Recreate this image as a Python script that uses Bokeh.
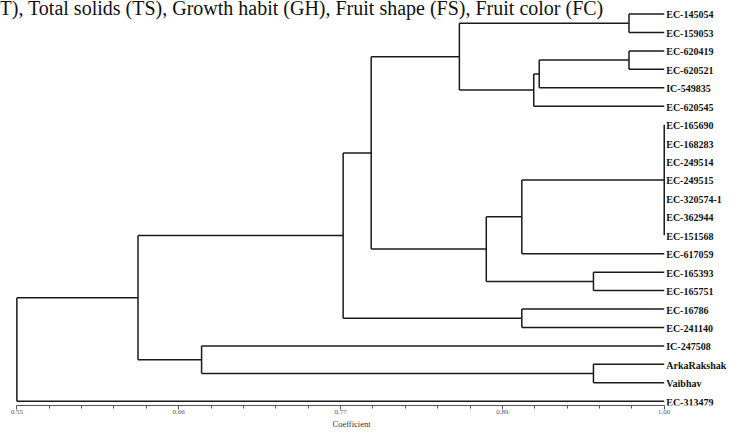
from bokeh.plotting import figure
from bokeh.models import Range1d, FixedTicker, ColumnDataSource, Title
from bokeh.core.properties import value
from bokeh.embed import file_html
from bokeh.resources import INLINE

TITLE = "T), Total solids (TS), Growth habit (GH), Fruit shape (FS), Fruit color (FC)"

LEAVES = ["EC-145054", "EC-159053", "EC-620419", "EC-620521", "IC-549835",
          "EC-620545", "EC-165690", "EC-168283", "EC-249514", "EC-249515",
          "EC-320574-1", "EC-362944", "EC-151568", "EC-617059", "EC-165393",
          "EC-165751", "EC-16786", "EC-241140", "IC-247508", "ArkaRakshak",
          "Vaibhav", "EC-313479"]

# cluster merges: member ids (leaf index or earlier merge id = 22 + k), coefficient
MERGE_CHILDREN = [[0, 1], [2, 3], [23, 4], [24, 5], [22, 25],
                  [6, 7, 8, 9, 10, 11, 12], [27, 13], [14, 15], [28, 29],
                  [26, 30], [16, 17], [31, 32], [19, 20], [18, 34], [33, 35],
                  [36, 21]]
MERGE_COEF = [0.9755, 0.9755, 0.9131, 0.9093, 0.8576,
              1.00, 0.9010, 0.9508, 0.8763,
              0.7963, 0.9010, 0.7768, 0.9508, 0.6784, 0.6342,
              0.55]

TICKS = [0.55, 0.6625, 0.775, 0.8875, 1.00]
TICK_LABELS = ["0.55", "0.66", "0.77", "0.89", "1.00"]
AXIS_LABEL = "Coefficient"

n = len(LEAVES)
ypos = {i: float(n - 1 - i) for i in range(n)}
height = {i: 1.0 for i in range(n)}
x0, y0, x1, y1 = [], [], [], []
for k, (children, h) in enumerate(zip(MERGE_CHILDREN, MERGE_COEF)):
    node = n + k
    cys = [ypos[c] for c in children]
    lo, hi = min(cys), max(cys)
    ypos[node] = (lo + hi) / 2.0
    height[node] = h
    x0.append(h); y0.append(lo); x1.append(h); y1.append(hi)
    for c in children:
        if height[c] != h:
            x0.append(h); y0.append(ypos[c]); x1.append(height[c]); y1.append(ypos[c])

seg = ColumnDataSource(dict(x0=x0, y0=y0, x1=x1, y1=y1))

p = figure(width=735, height=428, output_backend="svg", toolbar_location=None,
           x_range=Range1d(0.53862, 1.04954), y_range=Range1d(-0.231, 21.732),
           y_axis_location=None, min_border_left=0, min_border_right=0,
           min_border_top=0, min_border_bottom=23)
p.outline_line_color = None
p.grid.visible = False
p.background_fill_color = "white"

p.segment(x0="x0", y0="y0", x1="x1", y1="y1", source=seg,
          line_color="#1a1a1a", line_width=1.5)

lab = ColumnDataSource(dict(x=[1.0] * n, y=[ypos[i] for i in range(n)], t=LEAVES))
p.text(x="x", y="y", text="t", source=lab, x_offset=2, y_offset=1,
       text_font=value("Liberation Serif"), text_font_style="bold",
       text_font_size="10px", text_baseline="middle", text_color="#111111")

p.text(x=[0.53794], y=[21.32], text=[TITLE], text_font=value("Liberation Serif"),
       text_font_size="20px", text_baseline="alphabetic", text_color="#111111")

minor = []
for a, b in zip(TICKS[:-1], TICKS[1:]):
    for j in range(1, 5):
        minor.append(a + (b - a) * j / 5)

ax = p.xaxis[0]
ax.bounds = (TICKS[0], TICKS[-1])
ax.ticker = FixedTicker(ticks=TICKS, minor_ticks=minor)
ax.major_label_overrides = {t: l for t, l in zip(TICKS, TICK_LABELS)}
ax.axis_line_color = "#555555"
ax.major_tick_line_color = "#555555"
ax.minor_tick_line_color = "#555555"
ax.major_tick_in = 0
ax.major_tick_out = 4
ax.minor_tick_in = 0
ax.minor_tick_out = 3
ax.major_label_standoff = 0
ax.major_label_text_font = "Liberation Serif"
ax.major_label_text_font_size = "7px"
ax.major_label_text_color = "#555555"

xlab = Title(text=AXIS_LABEL, align="left", offset=332, standoff=0,
             text_font="Liberation Serif", text_font_size="8.5px",
             text_font_style="normal", text_color="#333333")
p.add_layout(xlab, "below")

open("out.html", "w").write(file_html(p, INLINE))
